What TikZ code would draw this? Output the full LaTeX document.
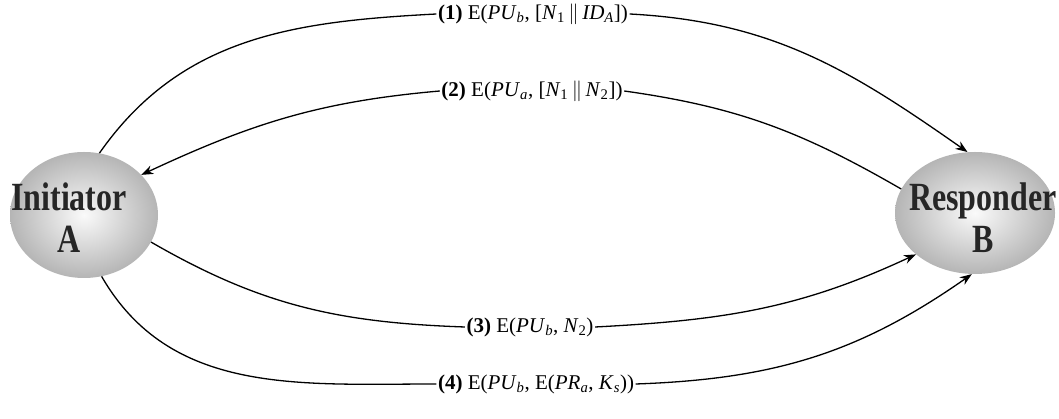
\documentclass[tikz,border=0pt]{standalone}
\usepackage{fontspec}
\usepackage{graphicx}
\setmainfont{Liberation Serif}
\usetikzlibrary{shapes.geometric,arrows.meta}
\newcommand{\msgsub}[1]{\textsubscript{#1}}
\newcommand{\msgpar}{\,$\|$\,}
\begin{document}
\begin{tikzpicture}[x=1pt,y=1pt,
  party/.style={ellipse, draw=none, shading=radial, inner color=gray!4, outer color=gray!58, inner sep=0pt},
  partytext/.style={font=\fontsize{40}{42}\selectfont\bfseries, align=center, inner sep=0pt, text=black!85},
  msg/.style={font=\fontsize{21}{25}\selectfont, inner sep=1.5pt},
  seg/.style={line width=1.3pt},
  flow/.style={line width=1.3pt, -{Stealth[length=12pt,width=9pt]}}]
\useasboundingbox (0,0) rectangle (1059,419);
\node[party, minimum width=148pt, minimum height=126pt] (A) at (84,204) {};
\node[party, minimum width=160pt, minimum height=122pt] (B) at (975,206) {};
\node[partytext] (At) at (69,201.5) {\scalebox{0.8}[1]{Initiator}\\\scalebox{0.8}[1]{A}};
\node[partytext] (Bt) at (983,201.5) {\scalebox{0.8}[1]{Responder}\\\scalebox{0.8}[1]{B}};
\node[msg] (l1) at (533,405) {\textbf{(1)} E(\textit{PU}\msgsub{\textit{b}}, [\textit{N}\msgsub{1}\msgpar\textit{ID}\msgsub{\textit{A}}])};
\node[msg] (l2) at (532,328) {\textbf{(2)} E(\textit{PU}\msgsub{\textit{a}}, [\textit{N}\msgsub{1}\msgpar\textit{N}\msgsub{2}])};
\node[msg] (l3) at (530,92) {\textbf{(3)} E(\textit{PU}\msgsub{\textit{b}}, \textit{N}\msgsub{2})};
\node[msg] (l4) at (536,35) {\textbf{(4)} E(\textit{PU}\msgsub{\textit{b}}, E(\textit{PR}\msgsub{\textit{a}}, \textit{K}\msgsub{\textit{s}}))};
% message 1
\draw[seg] (A.76) to[out=55,in=183] (l1.west);
\draw[flow] (l1.east) to[out=-3,in=145] (B.97);
% message 2
\draw[seg] (B.162) to[out=150,in=-8] (l2.east);
\draw[flow] (l2.west) to[out=185,in=25] (A.35);
% message 3
\draw[seg] (A.-22) to[out=-30,in=178] (l3.west);
\draw[flow] (l3.east) to[out=3,in=205] (B.215);
% message 4
\draw[seg] (A.-74) to[out=-60,in=180] (l4.west);
\draw[flow] (l4.east) to[out=2,in=215] (B.267);
\end{tikzpicture}
\end{document}
